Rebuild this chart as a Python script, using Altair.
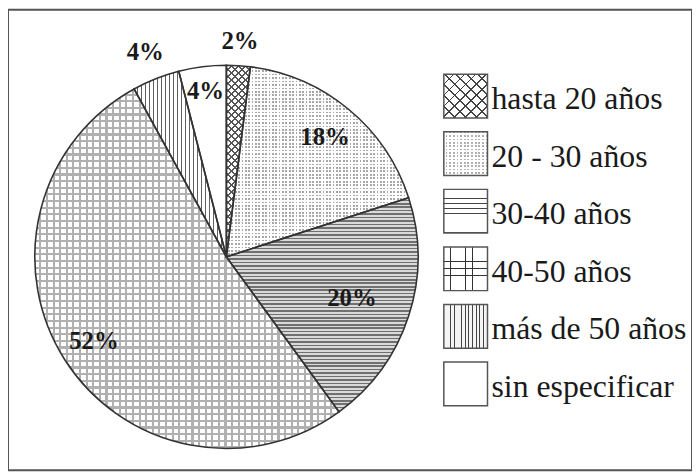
import altair as alt
import pandas as pd

# ---- data ----
CATEGORIES = ["hasta 20 años", "20 - 30 años", "30-40 años", "40-50 años",
              "más de 50 años", "sin especificar"]
PERCENTS = [2, 18, 20, 52, 4, 4]
LABELS = ["2%", "18%", "20%", "52%", "4%", "4%"]

# ---- styling / layout (not data) ----
LABEL_RADIUS = [218, 156, 133, 158, 222, 168]
CX, CY, R = 220, 249, 193
LEG_X, TXT_X = 461, 487
SERIF = "Liberation Serif"
TRANSP = "rgba(255,255,255,0)"


def stripes(n, line, bg, duty, x1, y1, x2, y2):
    # gap first, then line, so any padded region outside [0,1] shows the background
    stops = []
    for k in range(n):
        a = round(k / n, 6)
        b = round((k + 1 - duty) / n, 6)
        c = round((k + 1) / n, 6)
        stops += [{"offset": a, "color": bg}, {"offset": b, "color": bg},
                  {"offset": b, "color": line}, {"offset": c, "color": line}]
    stops.append({"offset": 1, "color": bg})
    return {"gradient": "linear", "x1": x1, "y1": y1, "x2": x2, "y2": y2,
            "stops": stops}


def horiz(n, line, bg, duty):
    return stripes(n, line, bg, duty, 0, 0, 0, 1)


def vert(n, line, bg, duty):
    return stripes(n, line, bg, duty, 0, 0, 1, 0)


a1 = 24.2 / 193.0
k1 = 1.15
PIE_FILLS = {
    "hasta 20 años": [stripes(32, "#555555", "white", 0.3, 0, 0, a1 * k1, k1),
                      stripes(32, "#555555", TRANSP, 0.3, 1, 0, 1 - a1 * k1, k1)],
    "20 - 30 años": [vert(54, "#a8a8a8", "white", 0.5),
                     horiz(55, "white", TRANSP, 0.5)],
    "30-40 años": [horiz(62, "#707070", "#dadada", 0.45)],
    "40-50 años": [horiz(54, "#b0b0b0", "white", 0.32),
                   vert(46, "#b0b0b0", TRANSP, 0.32)],
    "más de 50 años": [vert(23, "#606060", "white", 0.4)],
    "sin especificar": ["white"],
}

LEG_FILLS = {
    "hasta 20 años": [stripes(8, "#444444", "white", 0.16, 0, 0, 1, 1),
                      stripes(8, "#444444", TRANSP, 0.16, 1, 0, 0, 1)],
    "20 - 30 años": [vert(12, "#b0b0b0", "white", 0.5),
                     horiz(13, "white", TRANSP, 0.5)],
    "30-40 años": [horiz(9, "#444444", "white", 0.14)],
    "40-50 años": [horiz(6, "#333333", "white", 0.09),
                   vert(6, "#333333", TRANSP, 0.09)],
    "más de 50 años": [vert(12, "#444444", "#f4f4f4", 0.22)],
    "sin especificar": ["white"],
}

df = pd.DataFrame({
    "cat": CATEGORIES,
    "pct": PERCENTS,
    "label": LABELS,
    "lr": LABEL_RADIUS,
    "ord": list(range(len(CATEGORIES))),
})

base = (
    alt.Chart(df)
    .transform_window(cum="sum(pct)", sort=[alt.SortField("ord")], frame=[None, 0])
    .transform_calculate(start="datum.cum - datum.pct",
                         mid="datum.cum - datum.pct / 2")
)
theta_scale = alt.Scale(domain=[0, 100])
y_leg = alt.Y("cat:N", axis=None,
              scale=alt.Scale(type="point", domain=CATEGORIES, range=[87, 377],
                              padding=0))

layers = []
for cat in CATEGORIES:
    for fill in PIE_FILLS[cat]:
        layers.append(
            base.transform_filter(alt.datum.cat == cat)
            .mark_arc(radius=R, fill=fill, strokeWidth=0)
            .encode(theta=alt.Theta("start:Q", scale=theta_scale),
                    theta2="cum:Q", x=alt.value(CX), y=alt.value(CY))
        )

# outlines
layers.append(
    base.mark_arc(radius=R, fill="white", fillOpacity=0, stroke="#333333",
                  strokeWidth=1.6)
    .encode(theta=alt.Theta("start:Q", scale=theta_scale), theta2="cum:Q",
            x=alt.value(CX), y=alt.value(CY))
)

# percentage labels
layers.append(
    base.mark_text(font=SERIF, fontSize=25, fontWeight="bold", color="#1a1a1a",
                   baseline="middle", align="center")
    .encode(theta=alt.Theta("mid:Q", scale=theta_scale),
            radius=alt.Radius("lr:Q", scale=None),
            text="label:N", x=alt.value(CX), y=alt.value(CY))
)

# legend boxes
for cat in CATEGORIES:
    for fill in LEG_FILLS[cat]:
        layers.append(
            alt.Chart(df).transform_filter(alt.datum.cat == cat)
            .mark_square(size=44 * 44, fill=fill, opacity=1, strokeWidth=0)
            .encode(x=alt.value(LEG_X), y=y_leg)
        )
layers.append(
    alt.Chart(df)
    .mark_square(size=44 * 44, filled=False, stroke="#555555", strokeWidth=1.5,
                 opacity=1)
    .encode(x=alt.value(LEG_X), y=y_leg)
)
layers.append(
    alt.Chart(df)
    .mark_text(font=SERIF, fontSize=32, color="#1a1a1a", align="left",
               baseline="middle", dy=3)
    .encode(x=alt.value(TXT_X), y=y_leg, text="cat:N")
)

chart = (
    alt.layer(*layers)
    .properties(width=689, height=464, padding=0)
    .configure_view(stroke="#555555", strokeWidth=2)
)

chart.save("out.html", embed_options={"renderer": "svg", "actions": False})
